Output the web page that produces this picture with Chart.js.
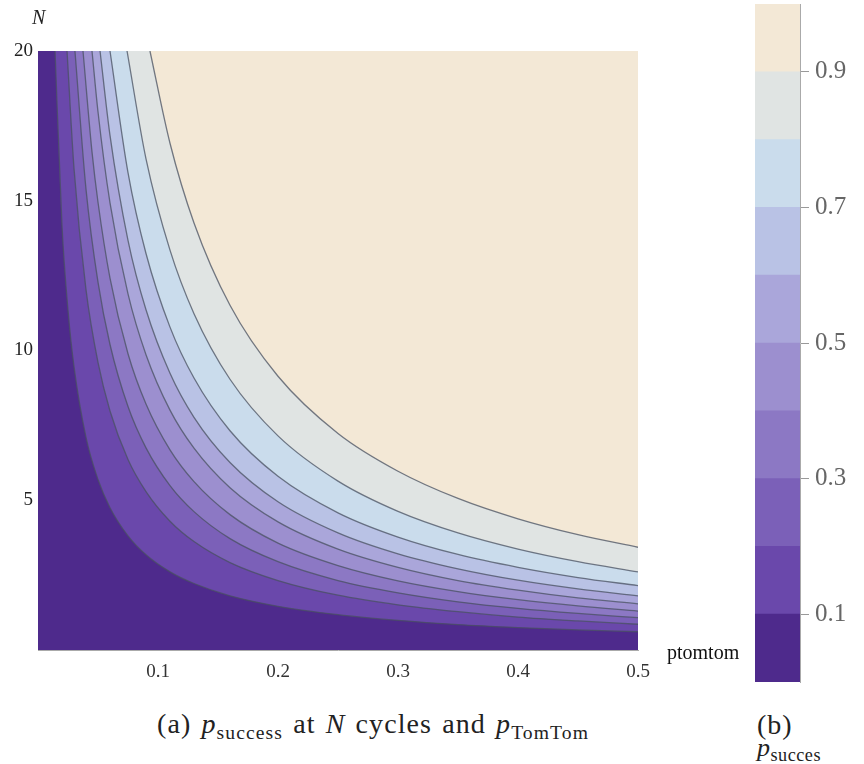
<!DOCTYPE html>
<html>
<head>
<meta charset="utf-8">
<script src="https://cdn.jsdelivr.net/npm/chart.js@4.4.1/dist/chart.umd.min.js"></script>
<style>
  html, body { margin: 0; padding: 0; background: #fff; }
  body { width: 864px; height: 764px; position: relative; overflow: hidden; font-family: "Liberation Serif", serif; color: #222; }
  .box { position: absolute; }
  .lbl { position: absolute; white-space: nowrap; line-height: 1; }
  sub { font-size: 70%; vertical-align: -0.3em; }
</style>
</head>
<body>
  <div class="box" style="left:0; top:0; width:680px; height:700px;"><canvas id="contourChart"></canvas></div>
  <div class="box" style="left:740px; top:0; width:124px; height:700px;"><canvas id="legendChart"></canvas></div>

  <div class="lbl" style="left:32px; top:7px; font-size:20px; font-style:italic;">N</div>
  <div class="lbl" style="left:667px; top:642px; font-size:20px; color:#111;">ptomtom</div>
  <div class="lbl" style="left:157px; top:710px; font-size:28px; letter-spacing:1.1px; word-spacing:2px;">(a) <i>p</i><sub>success</sub> at <i>N</i> cycles and <i>p</i><sub>TomTom</sub></div>
  <div class="lbl" style="left:757px; top:711px; font-size:28px; letter-spacing:1px;">(b)</div>
  <div class="lbl" style="left:757px; top:735px; font-size:26px; letter-spacing:0.5px;"><i>p</i><sub>succes</sub></div>

<script>
// axes
const xTicks = [0.1, 0.2, 0.3, 0.4, 0.5]
const yTicks = [5, 10, 15, 20]
const legendTicks = [0.1, 0.3, 0.5, 0.7, 0.9]

// contour levels of p_success, and the band colours between them (lowest first)
const levels = [0.1, 0.2, 0.3, 0.4, 0.5, 0.6, 0.7, 0.8, 0.9]
const bandColors = ["#4e2a8c", "#6a48ab", "#7b60b8", "#8c78c4", "#9c8fcf", "#aaa6da", "#b9c2e5", "#cadcec", "#e0e4e3", "#f3e8d6"]

// contour lines: [ptomtom, N]
const contour1 = [[0.0142, 20], [0.02, 14.16], [0.025, 11.34], [0.03, 9.46], [0.04, 7.1], [0.05, 5.69], [0.06, 4.75], [0.075, 3.81], [0.09, 3.18], [0.11, 2.61], [0.13, 2.22], [0.16, 1.81], [0.2, 1.46], [0.25, 1.18], [0.3, 0.99], [0.35, 0.85], [0.4, 0.75], [0.45, 0.67], [0.5, 0.61]]
const contour2 = [[0.0242, 20], [0.03, 16.08], [0.04, 12.03], [0.05, 9.6], [0.06, 7.98], [0.075, 6.36], [0.09, 5.29], [0.11, 4.3], [0.13, 3.62], [0.16, 2.92], [0.2, 2.32], [0.25, 1.83], [0.3, 1.51], [0.35, 1.28], [0.4, 1.1], [0.45, 0.97], [0.5, 0.86]]
const contour3 = [[0.0308, 20], [0.04, 15.39], [0.05, 12.28], [0.06, 10.2], [0.075, 8.13], [0.09, 6.75], [0.11, 5.49], [0.13, 4.62], [0.16, 3.72], [0.2, 2.95], [0.25, 2.32], [0.3, 1.91], [0.35, 1.61], [0.4, 1.39], [0.45, 1.22], [0.5, 1.08]]
const contour4 = [[0.0375, 20], [0.045, 16.63], [0.05, 14.95], [0.06, 12.42], [0.075, 9.89], [0.09, 8.21], [0.11, 6.68], [0.13, 5.62], [0.16, 4.52], [0.2, 3.57], [0.25, 2.82], [0.3, 2.31], [0.35, 1.95], [0.4, 1.68], [0.45, 1.47], [0.5, 1.3]]
const contour5 = [[0.045, 20], [0.05, 17.97], [0.06, 14.93], [0.075, 11.89], [0.09, 9.86], [0.11, 8.01], [0.13, 6.74], [0.16, 5.42], [0.2, 4.28], [0.25, 3.37], [0.3, 2.76], [0.35, 2.32], [0.4, 2.0], [0.45, 1.74], [0.5, 1.54]]
const contour6 = [[0.0517, 20], [0.06, 17.18], [0.075, 13.68], [0.09, 11.36], [0.11, 9.24], [0.13, 7.77], [0.16, 6.26], [0.2, 4.95], [0.25, 3.91], [0.3, 3.21], [0.35, 2.71], [0.4, 2.33], [0.45, 2.04], [0.5, 1.81]]
const contour7 = [[0.06, 20], [0.075, 15.94], [0.09, 13.24], [0.11, 10.78], [0.13, 9.08], [0.16, 7.32], [0.2, 5.8], [0.25, 4.58], [0.3, 3.77], [0.35, 3.19], [0.4, 2.76], [0.45, 2.42], [0.5, 2.15]]
const contour8 = [[0.0742, 20], [0.09, 16.4], [0.11, 13.35], [0.13, 11.23], [0.16, 9.04], [0.2, 7.15], [0.25, 5.64], [0.3, 4.63], [0.35, 3.91], [0.4, 3.37], [0.45, 2.95], [0.5, 2.61]]
const contour9 = [[0.0933, 20], [0.11, 16.92], [0.13, 14.26], [0.16, 11.51], [0.2, 9.14], [0.25, 7.23], [0.3, 5.97], [0.35, 5.06], [0.4, 4.38], [0.45, 3.85], [0.5, 3.43]]
const floorLine = [[0, 0], [0.5, 0]]

const contours = [contour1, contour2, contour3, contour4, contour5, contour6, contour7, contour8, contour9]
const serif = "'Liberation Serif', 'Times New Roman', serif"

function toPoints(list) {
  return list.map(([x, y]) => ({ x: x, y: y }))
}

function buildDatasets() {
  // lowest band fills the whole plot, each contour then fills everything above it
  const sets = [{
    data: toPoints(floorLine),
    backgroundColor: bandColors[0],
    borderWidth: 0,
    fill: "end",
    order: 20,
  }]
  contours.forEach((c, i) => {
    sets.push({
      label: "p = " + levels[i],
      data: toPoints(c),
      backgroundColor: bandColors[i + 1],
      borderColor: "rgba(72, 80, 96, 0.75)",
      borderWidth: 1.3,
      fill: "end",
      cubicInterpolationMode: "monotone",
      order: 19 - i,
    })
  })
  return sets
}

new Chart(document.getElementById("contourChart"), {
  type: "line",
  data: { datasets: buildDatasets() },
  options: {
    responsive: true,
    maintainAspectRatio: false,
    animation: false,
    layout: { padding: { top: 51, right: 42, left: 0, bottom: 0 } },
    elements: { point: { radius: 0 } },
    plugins: { legend: { display: false }, tooltip: { enabled: false } },
    scales: {
      x: {
        type: "linear",
        min: 0,
        max: 0.5,
        afterBuildTicks: (s) => { s.ticks = xTicks.map((v) => ({ value: v })) },
        afterFit: (s) => { s.height = 50 },
        ticks: { font: { family: serif, size: 19 }, color: "#333", padding: 11, maxRotation: 0, callback: (v) => v.toFixed(1) },
        grid: { display: false, drawTicks: false },
        border: { display: true, color: "#aaa", width: 1 },
      },
      y: {
        type: "linear",
        min: 0,
        max: 20,
        afterBuildTicks: (s) => { s.ticks = yTicks.map((v) => ({ value: v })) },
        afterFit: (s) => { s.width = 38 },
        ticks: { font: { family: serif, size: 19 }, color: "#222", padding: 5 },
        grid: { display: false, drawTicks: false },
        border: { display: true, color: "#aaa", width: 1 },
      },
    },
  },
})

// colour bar: one stacked bar, one slice per band
new Chart(document.getElementById("legendChart"), {
  type: "bar",
  data: {
    labels: [""],
    datasets: bandColors.map((col) => ({
      data: [0.1],
      backgroundColor: col,
      borderWidth: 0,
      barPercentage: 1,
      categoryPercentage: 1,
    })),
  },
  options: {
    responsive: true,
    maintainAspectRatio: false,
    animation: false,
    layout: { padding: { top: 4, left: 15, right: 0, bottom: 18 } },
    plugins: { legend: { display: false }, tooltip: { enabled: false } },
    scales: {
      x: { stacked: true, display: false },
      y: {
        stacked: true,
        position: "right",
        min: 0,
        max: 1,
        afterBuildTicks: (s) => { s.ticks = legendTicks.map((v) => ({ value: v })) },
        afterFit: (s) => { s.width = 64; s.paddingTop = 0; s.paddingBottom = 0 },
        ticks: { font: { family: serif, size: 25 }, color: "#666", padding: 6, callback: (v) => v.toFixed(1) },
        grid: { drawOnChartArea: false, drawTicks: true, tickLength: 9, color: "#999" },
        border: { display: true, color: "#aaa", width: 1 },
      },
    },
  },
})
</script>
</body>
</html>
